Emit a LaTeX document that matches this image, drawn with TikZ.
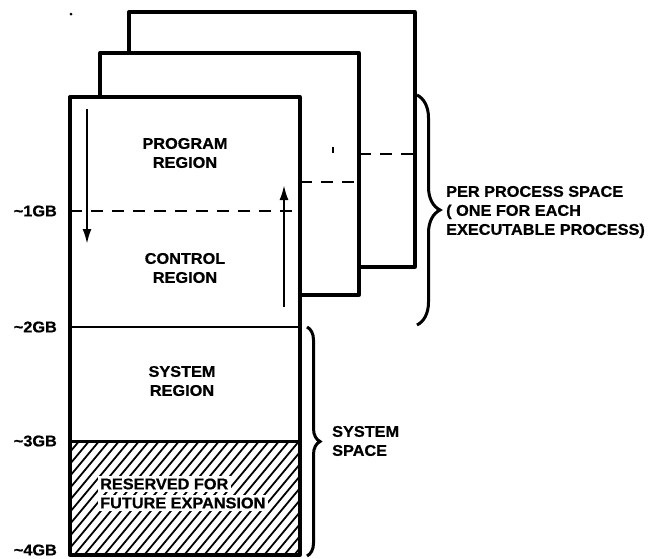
\documentclass[tikz,border=0pt]{standalone}
\usepackage{fontspec}
\setmainfont{Liberation Sans}[FakeStretch=1.05, BoldFeatures={FakeBold=0.8}]
\usetikzlibrary{arrows.meta,decorations.pathreplacing}
\begin{document}
\begin{tikzpicture}[x=1pt,y=-1pt,
  edge/.style={line width=3.3pt, line join=round, line cap=round},
  dashline/.style={line width=2.4pt, dash pattern=on 12pt off 9pt},
  lbl/.style={font=\bfseries\fontsize{15.5}{19}\selectfont, inner sep=0pt, align=center},
  hatchtext/.style={lbl, align=left, anchor=west, fill=white, inner sep=2.5pt},
  bracestyle/.style={decorate, line width=3pt, decoration={brace, amplitude=#1}},
  arr/.style={line width=2.2pt, -{Latex[length=15pt,width=9pt]}},
]
\useasboundingbox (0,0) rectangle (653,558);

% back boxes
\draw[edge] (129,53) -- (129,12) -- (415,12) -- (415,267) -- (359,267);
\draw[edge] (100,97) -- (100,53) -- (359,53) -- (359,295) -- (300,295);
\draw[dashline] (359,154) -- (415,154);
\draw[dashline] (300,182) -- (359,182);

% hatching of reserved area
\begin{scope}
  \clip (70,441) rectangle (300,555);
  \foreach \x in {-50,-40,...,300}
    \draw[line width=1.8pt] (\x,560) -- ++(105,-126);
\end{scope}
\node[hatchtext] (res1) at (97.5,484) {RESERVED FOR};
\node[hatchtext] (res2) at (97.5,503) {FUTURE EXPANSION};

% front box
\draw[edge] (70,97) rectangle (300,555);
\draw[dashline] (70,211) -- (300,211);
\draw[line width=2.6pt] (70,327) -- (300,327);
\draw[line width=3pt] (70,441) -- (300,441);

% arrows
\coordinate (d0) at (87,109);
\coordinate (d1) at (87,244);
\coordinate (u0) at (284,307);
\coordinate (u1) at (284,185);
\draw[arr] (d0) -- (d1);
\draw[arr] (u0) -- (u1);

% region labels
\node[lbl] (prog) at (185,153) {PROGRAM\\REGION};
\node[lbl] (ctrl) at (185,268) {CONTROL\\REGION};
\node[lbl] (sys) at (182,381) {SYSTEM\\REGION};

% address labels
\node[lbl, anchor=east] (gb1) at (57,211) {\textasciitilde 1GB};
\node[lbl, anchor=east] (gb2) at (57,327) {\textasciitilde 2GB};
\node[lbl, anchor=east] (gb3) at (57,441) {\textasciitilde 3GB};
\node[lbl, anchor=east] (gb4) at (57,550) {\textasciitilde 4GB};

% braces
\coordinate (pb0) at (417,95);
\coordinate (pb1) at (417,325);
\coordinate (sb0) at (307,327);
\coordinate (sb1) at (307,556);
\draw[bracestyle=23] (pb0) -- (pb1);
\draw[bracestyle=13] (sb0) -- (sb1);

\node[lbl, align=left, anchor=west] (pps) at (446,212) {PER PROCESS SPACE\\( ONE FOR EACH\\EXECUTABLE PROCESS)};
\node[lbl, align=left, anchor=west] (ss) at (332,441) {SYSTEM\\SPACE};

% specks
\fill (71,14) circle (1.5);
\draw[line width=2.4pt] (333,147) -- (333,153);
\end{tikzpicture}
\end{document}
